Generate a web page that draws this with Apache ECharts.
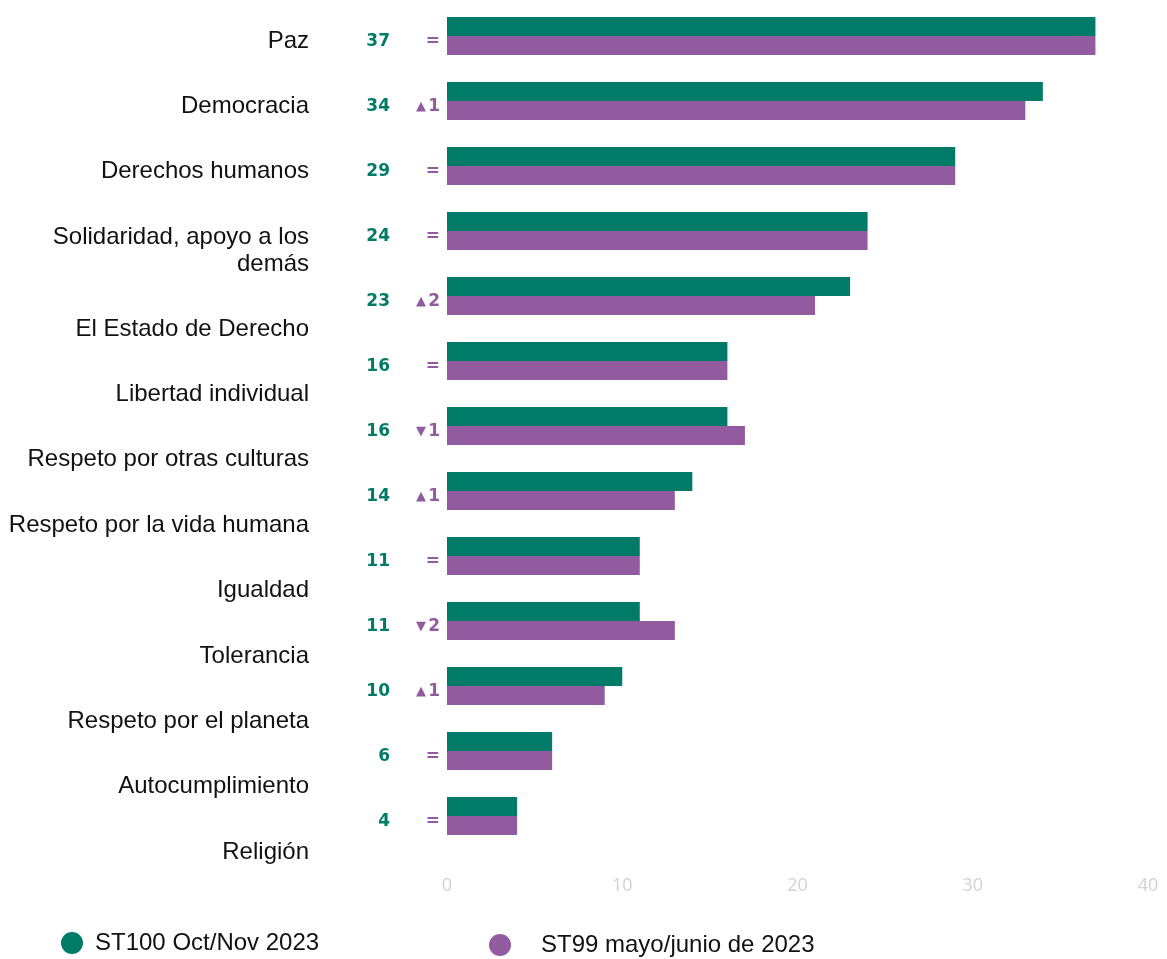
<!DOCTYPE html>
<html>
<head>
<meta charset="utf-8">
<script src="https://cdn.jsdelivr.net/npm/echarts@6/dist/echarts.min.js"></script>
<style>
  html, body { margin: 0; padding: 0; background: #fff; }
  #chart { width: 1167px; height: 959px; }
</style>
</head>
<body>
<div id="chart"></div>
<script>
const categories = [
  'Paz', 'Democracia', 'Derechos humanos', 'Solidaridad, apoyo a los\ndemás',
  'El Estado de Derecho', 'Libertad individual', 'Respeto por otras culturas',
  'Respeto por la vida humana', 'Igualdad', 'Tolerancia', 'Respeto por el planeta',
  'Autocumplimiento', 'Religión'
]
const current = [37, 34, 29, 24, 23, 16, 16, 14, 11, 11, 10, 6, 4]
const previous = [37, 33, 29, 24, 21, 16, 17, 13, 11, 13, 9, 6, 4]
const changes = ['=', '▲1', '=', '=', '▲2', '=', '▼1', '▲1', '=', '▼2', '▲1', '=', '=']
const xTicks = [0, 10, 20, 30, 40]

const GREEN = '#007b67'
const PURPLE = '#935b9f'
const FONT = '"Liberation Sans", Arial, sans-serif'
const NUMFONT = '"DejaVu Sans", sans-serif'

const chart = echarts.init(document.getElementById('chart'))

const nameStyle = { fontFamily: FONT, fontSize: 24, color: '#111' }

// the name labels sit a little lower than their bars, and the wrapped one
// pushes all the following names further down
const nameRich = {
  w1: Object.assign({ padding: [42, 0, 0, 0] }, nameStyle),
  w2: Object.assign({ lineHeight: 30 }, nameStyle)
}
categories.forEach((c, i) => {
  const shift = i < 3 ? 5 : 33 + (i - 4) * 0.4
  nameRich['n' + i] = Object.assign({ padding: [shift * 2, 0, 0, 0] }, nameStyle)
})

function nameLabel(value, index) {
  if (value.indexOf('\n') >= 0) {
    const parts = value.split('\n')
    return '{w1|' + parts[0] + '}\n{w2|' + parts[1] + '}'
  }
  return '{n' + index + '|' + value + '}'
}

function changeLabel(value, index) {
  const c = changes[index]
  if (c === '=') {
    return '{v|' + current[index] + '}{t| }{d|=}'
  }
  return '{v|' + current[index] + '}{t|' + c[0] + '}{d|' + c.slice(1) + '}'
}

chart.setOption({
  animation: false,
  grid: { left: 447, right: 19, top: 3.5, bottom: 110.5, containLabel: false },
  legend: [{
    data: ['ST100 Oct/Nov 2023'],
    left: 61,
    top: 931,
    padding: 0,
    icon: 'circle',
    itemWidth: 22,
    itemHeight: 22,
    textStyle: { fontFamily: FONT, fontSize: 24, color: '#111', padding: [0, 0, 0, 7] }
  }, {
    data: ['ST99 mayo/junio de 2023'],
    left: 489,
    top: 933,
    padding: 0,
    icon: 'circle',
    itemWidth: 22,
    itemHeight: 22,
    textStyle: { fontFamily: FONT, fontSize: 24, color: '#111', padding: [0, 0, 0, 25] }
  }],
  xAxis: {
    type: 'value',
    min: xTicks[0],
    max: xTicks[xTicks.length - 1],
    interval: 10,
    axisLine: { show: false },
    axisTick: { show: false },
    splitLine: { show: false },
    axisLabel: {
      margin: 28,
      color: '#d2d2d2',
      fontSize: 18,
      fontFamily: '"Open Sans", sans-serif'
    }
  },
  yAxis: [{
    type: 'category',
    data: categories,
    inverse: true,
    offset: 130,
    axisLine: { show: false },
    axisTick: { show: false },
    axisLabel: {
      interval: 0,
      margin: 8,
      formatter: nameLabel,
      rich: nameRich
    }
  }, {
    type: 'category',
    data: categories,
    inverse: true,
    position: 'left',
    offset: 0,
    axisLine: { show: false },
    axisTick: { show: false },
    axisLabel: {
      interval: 0,
      margin: 7,
      formatter: changeLabel,
      rich: {
        v: { width: 40, align: 'right', padding: [11, 0, 0, 0], fontFamily: NUMFONT, fontWeight: 'bold', fontSize: 17, color: GREEN },
        t: { width: 36, align: 'right', padding: [11, 0, 0, 0], fontFamily: NUMFONT, fontSize: 13, color: PURPLE },
        d: { width: 14, align: 'right', padding: [11, 0, 0, 0], fontFamily: NUMFONT, fontWeight: 'bold', fontSize: 17, color: PURPLE }
      }
    }
  }],
  series: [{
    name: 'ST100 Oct/Nov 2023',
    type: 'bar',
    yAxisIndex: 0,
    data: current,
    barWidth: 19,
    barGap: '0%',
    itemStyle: { color: GREEN }
  }, {
    name: 'ST99 mayo/junio de 2023',
    type: 'bar',
    yAxisIndex: 0,
    data: previous,
    barWidth: 19,
    barGap: '0%',
    itemStyle: { color: PURPLE }
  }]
})
</script>
</body>
</html>
